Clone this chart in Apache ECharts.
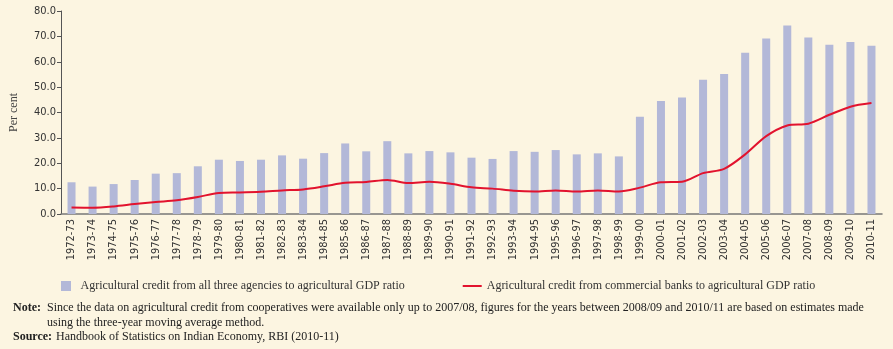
<!DOCTYPE html>
<html>
<head>
<meta charset="utf-8">
<script src="https://cdn.jsdelivr.net/npm/echarts@6/dist/echarts.min.js"></script>
<style>
  html, body { margin: 0; padding: 0; background: #fcf5e1; }
  #chart { width: 893px; height: 349px; }
</style>
</head>
<body>
<div id="chart"></div>
<script>
// years 1972-73 .. 2010-11
const years = ['1972-73', '1973-74', '1974-75', '1975-76', '1976-77', '1977-78', '1978-79', '1979-80',
  '1980-81', '1981-82', '1982-83', '1983-84', '1984-85', '1985-86', '1986-87', '1987-88', '1988-89',
  '1989-90', '1990-91', '1991-92', '1992-93', '1993-94', '1994-95', '1995-96', '1996-97', '1997-98',
  '1998-99', '1999-00', '2000-01', '2001-02', '2002-03', '2003-04', '2004-05', '2005-06', '2006-07',
  '2007-08', '2008-09', '2009-10', '2010-11'];

// all three agencies / agri GDP (bars)
const allAgencies = [12.5, 10.8, 11.8, 13.4, 15.9, 16.1, 18.8, 21.4, 20.9, 21.4, 23.1, 21.8, 24.0,
  27.8, 24.7, 28.7, 23.9, 24.8, 24.3, 22.2, 21.7, 24.8, 24.5, 25.2, 23.5, 23.9, 22.7, 38.3, 44.5,
  45.9, 52.9, 55.2, 63.5, 69.2, 74.3, 69.6, 66.7, 67.8, 66.3];

// commercial banks / agri GDP (line)
const commBanks = [2.6, 2.5, 3.0, 3.9, 4.7, 5.4, 6.7, 8.3, 8.5, 8.8, 9.3, 9.7, 10.9, 12.3, 12.6,
  13.4, 12.2, 12.7, 11.9, 10.5, 10.0, 9.2, 8.9, 9.3, 8.9, 9.3, 8.9, 10.4, 12.5, 12.7, 16.1, 17.8,
  23.5, 30.7, 34.9, 35.6, 39.1, 42.3, 43.7];

const barName = 'Agricultural credit from all three agencies to agricultural GDP ratio';
const lineName = 'Agricultural credit from commercial banks to agricultural GDP ratio';
const noteText = 'Since the data on agricultural credit from cooperatives were available only up to 2007/08, figures for the years between 2008/09 and 2010/11 are based on estimates made';
const noteText2 = 'using the three-year moving average method.';
const sourceText = 'Handbook of Statistics on Indian Economy, RBI (2010-11)';

const serif = '"Liberation Serif", "DejaVu Serif", serif';
const axisFont = '"DejaVu Sans Condensed", "DejaVu Sans", sans-serif';

const chart = echarts.init(document.getElementById('chart'), null, { renderer: 'canvas' });
const option = {
  backgroundColor: '#fcf5e1',
  animation: false,
  grid: { left: 58, right: 11, top: 11, bottom: 135 },
  legend: {
    left: 56,
    top: 275,
    itemWidth: 19,
    itemHeight: 10,
    itemGap: 58,
    textStyle: { fontFamily: serif, fontSize: 12, color: '#333' },
    data: [
      { name: barName, icon: 'path://M0,0H10V10H0Z' },
      { name: lineName, icon: 'path://M0,0H19V2H0Z' }
    ]
  },
  xAxis: {
    type: 'category',
    data: years,
    axisLine: { lineStyle: { color: '#777', width: 1.5 } },
    axisTick: { length: 5, lineStyle: { color: '#777' } },
    axisLabel: {
      rotate: 90, interval: 0, margin: 5,
      fontFamily: axisFont, fontSize: 11, color: '#333'
    }
  },
  yAxis: {
    type: 'value',
    min: 0, max: 80, interval: 10,
    name: 'Per cent',
    nameLocation: 'middle',
    nameGap: 41,
    nameTextStyle: { fontFamily: serif, fontSize: 12, color: '#444' },
    axisLine: { show: true, lineStyle: { color: '#555' } },
    axisTick: { show: true, length: 4, lineStyle: { color: '#555' } },
    splitLine: { show: false },
    axisLabel: {
      margin: 5, fontFamily: axisFont, fontSize: 11, color: '#333',
      formatter: v => v.toFixed(1)
    }
  },
  series: [
    {
      name: barName,
      type: 'bar',
      data: allAgencies,
      barWidth: 8,
      itemStyle: { color: '#b3b8d8' }
    },
    {
      name: lineName,
      type: 'line',
      data: commBanks,
      symbol: 'none',
      smooth: 0.3,
      lineStyle: { color: '#e2132e', width: 2 },
      itemStyle: { color: '#e2132e' }
    }
  ],
  graphic: [
    { type: 'text', left: 13, top: 302, style: { text: 'Note:', font: 'bold 12px ' + serif, fill: '#222' } },
    { type: 'text', left: 47, top: 302, style: { text: noteText, font: '12px ' + serif, fill: '#222' } },
    { type: 'text', left: 47, top: 317, style: { text: noteText2, font: '12px ' + serif, fill: '#222' } },
    { type: 'text', left: 13, top: 331, style: { text: 'Source:', font: 'bold 12px ' + serif, fill: '#222' } },
    { type: 'text', left: 56, top: 331, style: { text: sourceText, font: '12px ' + serif, fill: '#222' } }
  ]
};
chart.setOption(option);
</script>
</body>
</html>
